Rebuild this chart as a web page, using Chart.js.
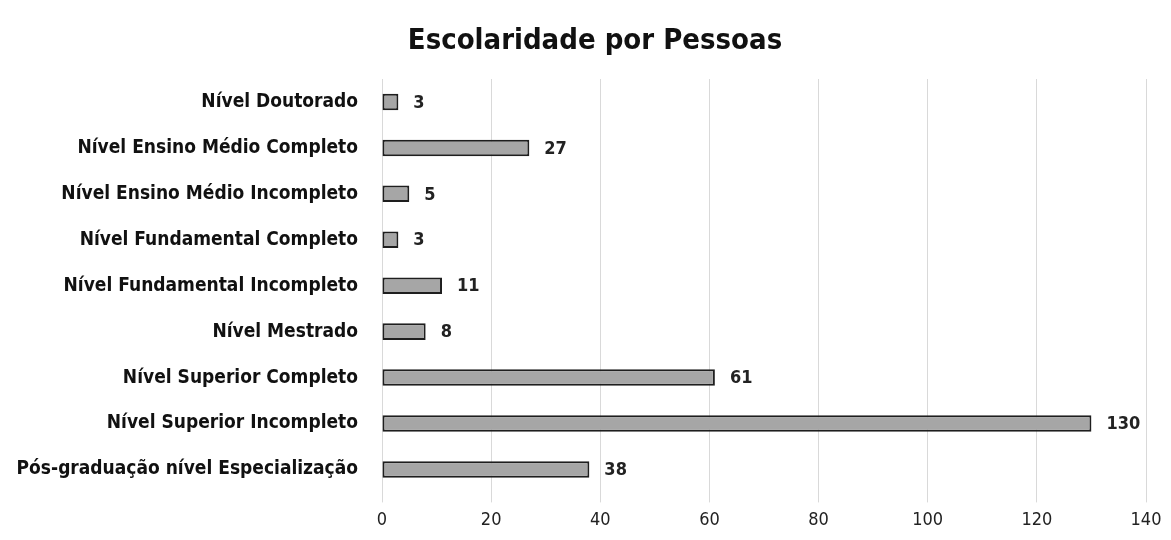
<!DOCTYPE html>
<html>
<head>
<meta charset="utf-8">
<script src="https://cdn.jsdelivr.net/npm/chart.js@4"></script>
<style>
  html, body { margin: 0; padding: 0; background: #fff; }
  #box { width: 1171px; height: 540px; }
</style>
</head>
<body>
<div id="box"><canvas id="grafico" width="1171" height="540"></canvas></div>
<script>
// categorias de cima para baixo
const categorias = [
    'Nível Doutorado',
    'Nível Ensino Médio Completo',
    'Nível Ensino Médio Incompleto',
    'Nível Fundamental Completo',
    'Nível Fundamental Incompleto',
    'Nível Mestrado',
    'Nível Superior Completo',
    'Nível Superior Incompleto',
    'Pós-graduação nível Especialização'
];
const pessoas = [3, 27, 5, 3, 11, 8, 61, 130, 38];
const ticksX = [0, 20, 40, 60, 80, 100, 120, 140];
const titulo = 'Escolaridade por Pessoas';

const fonte = "'DejaVu Sans Condensed', 'DejaVu Sans', sans-serif";

// título desenhado à mão, um pouco à direita do centro como no original
const tituloPlugin = {
    id: 'tituloPlugin',
    afterDraw(chart) {
        const ctx = chart.ctx;
        ctx.save();
        ctx.font = "bold 29px " + fonte;
        ctx.fillStyle = '#111';
        ctx.textAlign = 'center';
        ctx.textBaseline = 'middle';
        ctx.fillText(titulo, 595, 41);
        ctx.restore();
    }
};

// rótulos de valor à direita das barras
const rotulos = {
    id: 'rotulos',
    afterDatasetsDraw(chart) {
        const ctx = chart.ctx;
        const meta = chart.getDatasetMeta(0);
        ctx.save();
        ctx.font = "bold 18px " + fonte;
        ctx.fillStyle = '#222';
        ctx.textAlign = 'left';
        ctx.textBaseline = 'middle';
        meta.data.forEach((bar, i) => {
            ctx.fillText(String(pessoas[i]), bar.x + 15, bar.y + 1);
        });
        ctx.restore();
    }
};

new Chart(document.getElementById('grafico'), {
    type: 'bar',
    data: {
        labels: categorias,
        datasets: [{
            data: pessoas,
            backgroundColor: '#a6a6a6',
            borderColor: '#1e1e1e',
            borderWidth: 2,
            borderSkipped: false,
            categoryPercentage: 1,
            barPercentage: 0.36
        }]
    },
    options: {
        indexAxis: 'y',
        responsive: false,
        animation: false,
        layout: { padding: { top: 79, right: 25, bottom: 2, left: 4 } },
        plugins: {
            legend: { display: false },
            tooltip: { enabled: false },
            title: { display: false }
        },
        scales: {
            x: {
                min: 0,
                max: 140,
                afterBuildTicks(scale) {
                    scale.ticks = ticksX.map(v => ({ value: v }));
                },
                grid: { color: '#d9d9d9', lineWidth: 1, tickLength: 10 },
                border: { display: false },
                ticks: {
                    color: '#222',
                    padding: 7,
                    font: { family: fonte, size: 18 }
                }
            },
            y: {
                afterFit(scale) { scale.width = 378; },
                grid: { display: false },
                border: { display: false },
                ticks: {
                    color: '#111',
                    padding: 16,
                    font: { family: fonte, size: 19, weight: 'bold' }
                }
            }
        }
    },
    plugins: [rotulos, tituloPlugin]
});
</script>
</body>
</html>
